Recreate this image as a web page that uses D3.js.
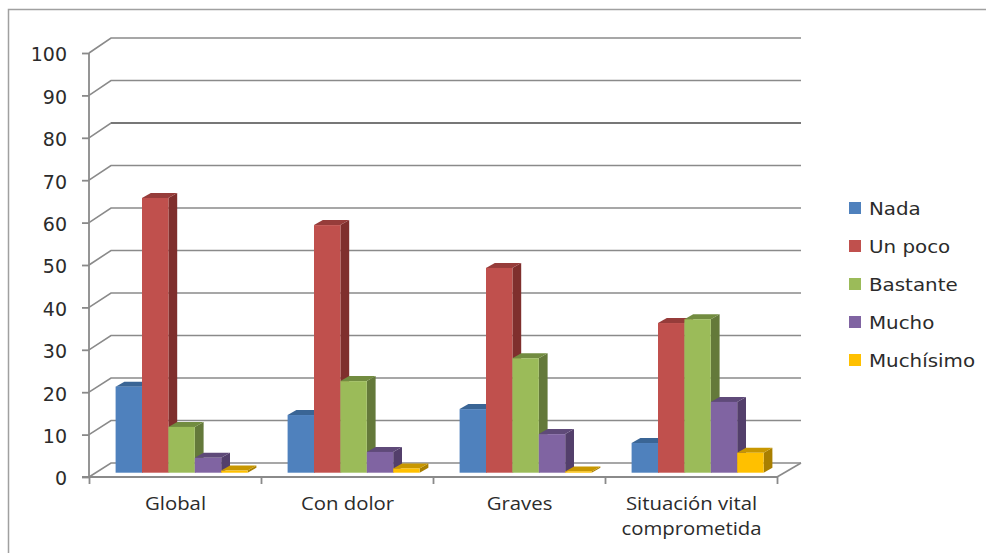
<!DOCTYPE html>
<html lang="es">
<head>
<meta charset="utf-8">
<script src="https://cdn.jsdelivr.net/npm/d3@7/dist/d3.min.js"></script>
<style>
  html, body { margin: 0; padding: 0; background: #fff; }
  svg { display: block; }
  text { fill: #2b2b2b; }
</style>
</head>
<body>
<svg id="chart" width="986" height="553"></svg>
<script>
// Grados de afectación por grupo de pacientes
const categories = ["Global", "Con dolor", "Graves", "Situación vital|comprometida"];
const seriesNames = ["Nada", "Un poco", "Bastante", "Mucho", "Muchísimo"];
const nada = [20.3, 13.6, 15.0, 7.0];
const unPoco = [64.8, 58.4, 48.3, 35.3];
const bastante = [10.8, 21.6, 27.0, 36.2];
const mucho = [3.5, 4.9, 9.1, 16.7];
const muchisimo = [0.5, 1.0, 0.3, 4.7];
const seriesValues = [nada, unPoco, bastante, mucho, muchisimo];
const yTicks = [0, 10, 20, 30, 40, 50, 60, 70, 80, 90, 100];

const frontColors = ["#4f81bd", "#c0504d", "#9bbb59", "#8064a2", "#ffc000"];
const topColors = ["#3a6595", "#963c3a", "#728c40", "#5f4a79", "#c89700"];
const sideColors = ["#335a86", "#7f2f2d", "#64793a", "#533f6b", "#a97f00"];
const gridColor = "#8a8a8a";

const svg = d3.select("#chart");

// Recuadro exterior, abierto por la derecha y por abajo
svg.append("path")
  .attr("d", "M8.5,553V9.5H986")
  .attr("fill", "none")
  .attr("stroke", "#a0a0a0")
  .attr("stroke-width", 1.5);

// Plano frontal, pared del fondo y plano de apoyo de las columnas
const yFront = d3.scaleLinear().domain([0, 100]).range([477, 53]);
const yBack = d3.scaleLinear().domain([0, 100]).range([463, 38]);
const yBar = d3.scaleLinear().domain([0, 100]).range([472.7, 48.7]);
const xFront = d3.scaleLinear().domain([0, categories.length]).range([89, 777]);
const wallDx = 22;
const barDx = 8.8;
const barDy = 5;

const xGroup = d3.scaleBand().domain(d3.range(categories.length)).range([89, 777]);
const xBar = d3.scaleBand().domain(d3.range(seriesNames.length))
  .range([26.6, 26.6 + 5 * 26.4]);

// Líneas de cuadrícula con su quiebre hacia el plano frontal
const grid = svg.append("g").attr("fill", "none").attr("stroke", gridColor).attr("stroke-width", 1.6);
grid.selectAll("path")
  .data(yTicks)
  .join("path")
  .attr("d", d => d3.line()([
    [xFront(0), yFront(d)],
    [xFront(0) + wallDx, yBack(d)],
    [xFront(categories.length) + wallDx + 2, yBack(d)]
  ]));
// La línea del 80 aparece algo más marcada en su tramo horizontal
grid.selectAll("line.strong")
  .data(yTicks.filter(d => d === 80))
  .join("line")
  .attr("class", "strong")
  .attr("x1", xFront(0) + wallDx)
  .attr("x2", xFront(categories.length) + wallDx + 2)
  .attr("y1", d => yBack(d))
  .attr("y2", d => yBack(d))
  .attr("stroke", "#777")
  .attr("stroke-width", 2.2);
grid.append("line")
  .attr("x1", xFront(categories.length)).attr("y1", yFront(0))
  .attr("x2", xFront(categories.length) + wallDx + 2).attr("y2", yBack(0));

// Eje de valores
const yAxis = svg.append("g")
  .attr("transform", `translate(${xFront(0)},0)`)
  .call(d3.axisLeft(yFront).tickValues(yTicks).tickSize(7).tickPadding(15));
yAxis.selectAll("path, line").attr("stroke", gridColor).attr("stroke-width", 1.8);
yAxis.select(".domain").attr("d", `M0,${yFront(100)}V${yFront(0)}`);
yAxis.selectAll("text")
  .attr("font-family", "DejaVu Sans")
  .attr("font-size", 19)
  .attr("dy", "0.42em");

// Eje de categorías
const xAxis = svg.append("g")
  .attr("transform", `translate(0,${yFront(0)})`)
  .call(d3.axisBottom(xFront).ticks(categories.length).tickSize(7).tickFormat(""));
xAxis.selectAll("path, line").attr("stroke", gridColor).attr("stroke-width", 1.8);
xAxis.select(".domain").attr("d", `M82,0H${xFront(categories.length)}`);

// Rótulos de categoría, ligeramente ensanchados en horizontal
const labelStretch = 1.1;
const catLabels = svg.append("g")
  .attr("font-family", "Open Sans")
  .attr("font-size", 18.5)
  .attr("text-anchor", "middle");
catLabels.selectAll("text")
  .data(categories)
  .join("text")
  .attr("transform", (d, i) =>
    `translate(${xGroup(i) + xGroup.bandwidth() / 2 + 0.5},510) scale(${labelStretch},1)`)
  .each(function (d) {
    const parent = d3.select(this);
    d.split("|").forEach((line, k) => {
      parent.append("tspan")
        .attr("x", 0)
        .attr("dy", k === 0 ? 0 : 25)
        .text(line);
    });
  });

// Columnas con sus caras superior y lateral, de izquierda a derecha
categories.forEach((cat, c) => {
  seriesNames.forEach((name, s) => {
    const x0 = xGroup(c) + xBar(s);
    const x1 = x0 + xBar.bandwidth();
    const yTop = yBar(seriesValues[s][c]);
    const yBase = yBar(0);
    const bar = svg.append("g");
    bar.append("path")
      .attr("fill", sideColors[s])
      .attr("d", d3.line()([[x1, yTop], [x1 + barDx, yTop - barDy], [x1 + barDx, yBase - barDy], [x1, yBase]]) + "Z");
    bar.append("path")
      .attr("fill", topColors[s])
      .attr("d", d3.line()([[x0, yTop], [x0 + barDx, yTop - barDy], [x1 + barDx, yTop - barDy], [x1, yTop]]) + "Z");
    bar.append("rect")
      .attr("x", x0).attr("y", yTop)
      .attr("width", x1 - x0).attr("height", yBase - yTop)
      .attr("fill", frontColors[s]);
  });
});

// Leyenda
const yLegend = d3.scalePoint().domain(seriesNames).range([208, 360]);
const legend = svg.append("g");
const entries = legend.selectAll("g")
  .data(seriesNames)
  .join("g")
  .attr("transform", d => `translate(849,${yLegend(d)})`);
entries.append("rect")
  .attr("x", 0).attr("y", -6)
  .attr("width", 12).attr("height", 12)
  .attr("fill", (d, i) => frontColors[i]);
entries.append("text")
  .attr("transform", "translate(20,1) scale(1.135,1)")
  .attr("dy", "0.35em")
  .attr("font-family", "DejaVu Sans")
  .attr("font-size", 17.5)
  .text(d => d);
</script>
</body>
</html>
